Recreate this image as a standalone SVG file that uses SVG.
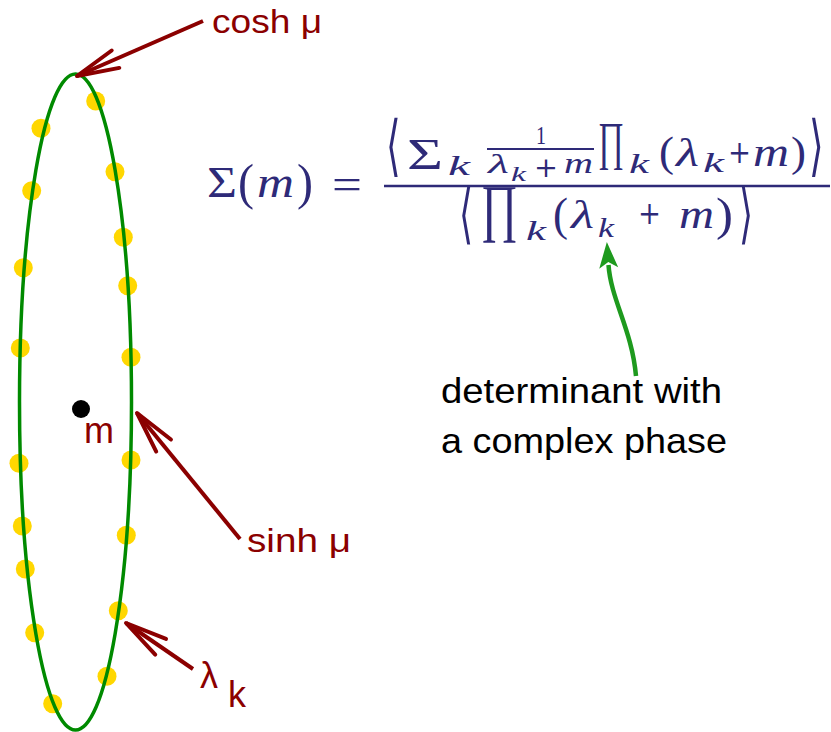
<svg xmlns="http://www.w3.org/2000/svg" width="831" height="732" viewBox="0 0 831 732">
<style>
.m{font-family:"Liberation Serif","DejaVu Serif",serif;fill:#2e2a78}
.i{font-style:italic}
.pl{font-family:"DejaVu Serif",serif;font-style:normal}
.ab{font-family:"DejaVu Sans",sans-serif;fill:#2e2a78}
.lbl{font-family:"Liberation Sans",Arial,sans-serif;fill:#8b0000}
.note{font-family:"Liberation Sans",Arial,sans-serif;fill:#000}
.dot{fill:#ffd700}
.bar{stroke:#2e2a78;fill:none}
.red{stroke:#8b0000;stroke-width:4;fill:none;marker-end:url(#openHead)}
</style>
<defs>
<marker id="openHead" markerUnits="userSpaceOnUse" markerWidth="60" markerHeight="40" refX="0" refY="0" orient="auto" overflow="visible">
<path d="M-42,-9.5 L0,0 L-42,9.5" fill="none" stroke="#8b0000" stroke-width="4" stroke-linejoin="round" stroke-linecap="round"/>
</marker>
<marker id="greenHead" markerUnits="userSpaceOnUse" markerWidth="40" markerHeight="30" refX="0" refY="0" orient="auto" overflow="visible">
<path d="M23,0 L-3,-9.5 L3,0 L-3,9.5 Z" fill="#1e9a1e"/>
</marker>
</defs>

<g id="ring">
<g id="eigenvalues">
<circle class="dot" cx="95.7" cy="101" r="9.5"/>
<circle class="dot" cx="41" cy="128.3" r="9.5"/>
<circle class="dot" cx="115" cy="171.7" r="9.5"/>
<circle class="dot" cx="31.7" cy="190.7" r="9.5"/>
<circle class="dot" cx="123.3" cy="237.3" r="9.5"/>
<circle class="dot" cx="23.3" cy="267.7" r="9.5"/>
<circle class="dot" cx="127.7" cy="285.7" r="9.5"/>
<circle class="dot" cx="20.3" cy="348" r="9.5"/>
<circle class="dot" cx="131" cy="357.3" r="9.5"/>
<circle class="dot" cx="19" cy="463.3" r="9.5"/>
<circle class="dot" cx="131" cy="460" r="9.5"/>
<circle class="dot" cx="22.3" cy="526" r="9.5"/>
<circle class="dot" cx="126.3" cy="535.3" r="9.5"/>
<circle class="dot" cx="25.3" cy="569" r="9.5"/>
<circle class="dot" cx="118.3" cy="610.7" r="9.5"/>
<circle class="dot" cx="34.7" cy="632.7" r="9.5"/>
<circle class="dot" cx="107" cy="676.3" r="9.5"/>
<circle class="dot" cx="52.7" cy="703.7" r="9.5"/>
</g>
<ellipse id="ellipse" cx="75.5" cy="402" rx="56" ry="328" fill="none" stroke="#008a00" stroke-width="3.5"/>
</g>

<g id="mass">
<circle cx="81" cy="409" r="9" fill="#000"/>
<text class="lbl" x="84" y="443" font-size="36">m</text>
</g>

<g id="label-cosh"><text class="lbl" x="212" y="33" font-size="34" textLength="110" lengthAdjust="spacingAndGlyphs">cosh μ</text></g>
<g id="label-sinh"><text class="lbl" x="247" y="552" font-size="34" textLength="104" lengthAdjust="spacingAndGlyphs">sinh μ</text></g>
<g id="label-lambda">
<text class="lbl" font-size="36"><tspan x="200" y="688">λ</tspan><tspan x="228" y="707">k</tspan></text>
</g>

<g id="note">
<text class="note" x="441" y="403" font-size="35" textLength="281" lengthAdjust="spacingAndGlyphs">determinant with</text>
<text class="note" x="441" y="453" font-size="35" textLength="286" lengthAdjust="spacingAndGlyphs">a complex phase</text>
</g>

<g id="formula">
<text class="m" font-size="44"><tspan x="207" y="197" textLength="30" lengthAdjust="spacingAndGlyphs">Σ</tspan><tspan x="238" y="199" font-size="50" textLength="16" lengthAdjust="spacingAndGlyphs">(</tspan><tspan class="i" x="257" y="197" textLength="37" lengthAdjust="spacingAndGlyphs">m</tspan><tspan x="297" y="199" font-size="50" textLength="16" lengthAdjust="spacingAndGlyphs">)</tspan><tspan x="332" y="199" textLength="30" lengthAdjust="spacingAndGlyphs">=</tspan></text>
<line class="bar" x1="384" y1="186" x2="830" y2="186" stroke-width="2.7"/>

<text class="ab" transform="translate(386,168) scale(0.75,1.33)" font-size="50">⟨</text>
<text class="m" font-size="44"><tspan x="407" y="169" textLength="36" lengthAdjust="spacingAndGlyphs">Σ</tspan><tspan class="i" x="448" y="175" font-size="28" textLength="22" lengthAdjust="spacingAndGlyphs">k</tspan></text>
<text class="m" x="536" y="144" font-size="25" textLength="10" lengthAdjust="spacingAndGlyphs">1</text>
<line class="bar" x1="487" y1="149" x2="594" y2="149" stroke-width="2"/>
<text class="m" font-size="28"><tspan class="i" x="488" y="173" textLength="21" lengthAdjust="spacingAndGlyphs">λ</tspan><tspan class="i" x="511" y="181" font-size="20" textLength="15" lengthAdjust="spacingAndGlyphs">k</tspan><tspan class="pl" x="534" y="177" font-size="28" textLength="24" lengthAdjust="spacingAndGlyphs">+</tspan><tspan class="i" x="564" y="173" font-size="30" textLength="29" lengthAdjust="spacingAndGlyphs">m</tspan></text>
<text class="m" font-size="40"><tspan x="598" y="158.5" font-size="53" textLength="26" lengthAdjust="spacingAndGlyphs">∏</tspan><tspan class="i" x="629" y="173" font-size="28" textLength="20" lengthAdjust="spacingAndGlyphs">k</tspan><tspan x="659" y="166" font-size="42" textLength="15" lengthAdjust="spacingAndGlyphs">(</tspan><tspan class="i" x="676" y="166" textLength="23" lengthAdjust="spacingAndGlyphs">λ</tspan><tspan class="i" x="703" y="172" font-size="28" textLength="21" lengthAdjust="spacingAndGlyphs">k</tspan><tspan class="pl" x="728" y="162.5" font-size="32" textLength="23" lengthAdjust="spacingAndGlyphs">+</tspan><tspan class="i" x="753" y="166" textLength="36" lengthAdjust="spacingAndGlyphs">m</tspan><tspan x="791" y="166" font-size="42" textLength="15" lengthAdjust="spacingAndGlyphs">)</tspan></text>
<text class="ab" transform="translate(809,168) scale(0.75,1.33)" font-size="50">⟩</text>

<text class="ab" transform="translate(459,236.4) scale(0.72,1.29)" font-size="50">⟨</text>
<text class="m" font-size="40"><tspan x="481" y="228.5" font-size="64" textLength="37" lengthAdjust="spacingAndGlyphs">∏</tspan><tspan class="i" x="526" y="240" font-size="28" textLength="20" lengthAdjust="spacingAndGlyphs">k</tspan><tspan x="553" y="230" font-size="46" textLength="15" lengthAdjust="spacingAndGlyphs">(</tspan><tspan class="i" x="571" y="228" textLength="23" lengthAdjust="spacingAndGlyphs">λ</tspan><tspan class="i" x="598" y="237" font-size="28" textLength="16" lengthAdjust="spacingAndGlyphs">k</tspan><tspan class="pl" x="638" y="224" font-size="32" textLength="23" lengthAdjust="spacingAndGlyphs">+</tspan><tspan class="i" x="679" y="228" textLength="35" lengthAdjust="spacingAndGlyphs">m</tspan><tspan x="716" y="230" font-size="46" textLength="17" lengthAdjust="spacingAndGlyphs">)</tspan></text>
<text class="ab" transform="translate(739,236.4) scale(0.72,1.29)" font-size="50">⟩</text>
</g>

<g id="connectors">
<line class="red" x1="203" y1="21" x2="77" y2="76"/>
<line class="red" x1="240" y1="539" x2="137" y2="413"/>
<line class="red" x1="193" y1="669" x2="126" y2="623"/>
<path d="M636,376 C632,330 611,300 608.5,265" fill="none" stroke="#1e9a1e" stroke-width="4.5" marker-end="url(#greenHead)"/>
</g>
</svg>
